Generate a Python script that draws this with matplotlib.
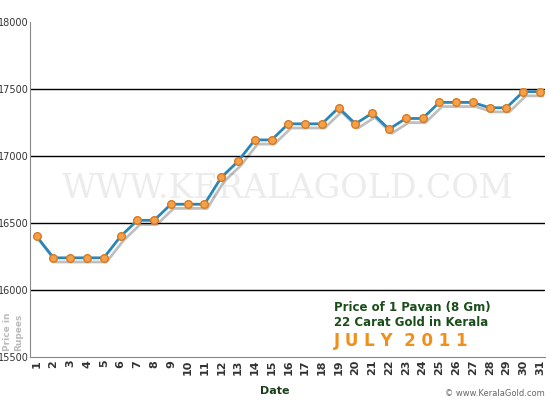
import matplotlib
matplotlib.use("Agg")
import matplotlib.pyplot as plt
import matplotlib.patheffects as pe

days = list(range(1, 32))
prices = [16400, 16240, 16240, 16240, 16240, 16400, 16520, 16520, 16640, 16640,
          16640, 16840, 16960, 17120, 17120, 17240, 17240, 17240, 17360, 17240,
          17320, 17200, 17280, 17280, 17400, 17400, 17400, 17360, 17360, 17480, 17480]
yticks = [15500, 16000, 16500, 17000, 17500, 18000]

fig = plt.figure(figsize=(5.5, 4), dpi=100)
ax = fig.add_axes([30/550, 43/400, 515/550, 335/400])
ax.set_xlim(0.6, 31.3)
ax.set_ylim(15500, 18000)
ax.set_yticks(yticks)
ax.set_xticks(days)
ax.set_xticklabels([str(d) for d in days], rotation=90, fontsize=8, fontweight='bold', color='#333')
ax.set_yticklabels([str(v) for v in yticks], fontsize=7, color='#333')
for v in yticks[1:-1]:
    ax.axhline(v, color='black', lw=1, zorder=1)
for s in ['top', 'right']:
    ax.spines[s].set_visible(False)
ax.spines['left'].set_color('#888')
ax.spines['bottom'].set_color('#888')
ax.tick_params(axis='y', length=0, pad=1)
ax.tick_params(axis='x', length=0, pad=2)
ax.text(0.5, 0.5, "WWW.KERALAGOLD.COM", transform=ax.transAxes, ha='center', va='center',
        fontsize=24, family='DejaVu Serif', color='#ececec', zorder=0)
ax.plot(days, prices, color='#2b86b8', lw=2, zorder=3,
        path_effects=[pe.SimpleLineShadow(offset=(2, -3), alpha=0.25, shadow_color='black'), pe.Normal()])
ax.plot(days, prices, ls='none', marker='o', ms=5.5, mfc='#f5a04a', mec='#d97a20', zorder=4)
ax.text(0.59, 0.085, "Price of 1 Pavan (8 Gm)\n22 Carat Gold in Kerala", transform=ax.transAxes,
        fontsize=8.5, fontweight='bold', color='#1a4d1a', va='bottom', linespacing=1.15)
ax.text(0.59, 0.02, "J U L Y  2 0 1 1", transform=ax.transAxes, fontsize=12, fontweight='bold',
        color='#f0901a', va='bottom')
fig.text(0.5, 0.015, "Date", ha='center', fontsize=8, fontweight='bold', color='#1a3d1a')
fig.text(0.024, 0.17, "Price in\nRupees", rotation=90, ha='center', va='center', fontsize=6.5,
         fontweight='bold', color='#bbbbbb')
fig.text(0.99, 0.005, "© www.KeralaGold.com", ha='right', va='bottom', fontsize=6, color='#666')
fig.savefig("out.png", dpi=100)
